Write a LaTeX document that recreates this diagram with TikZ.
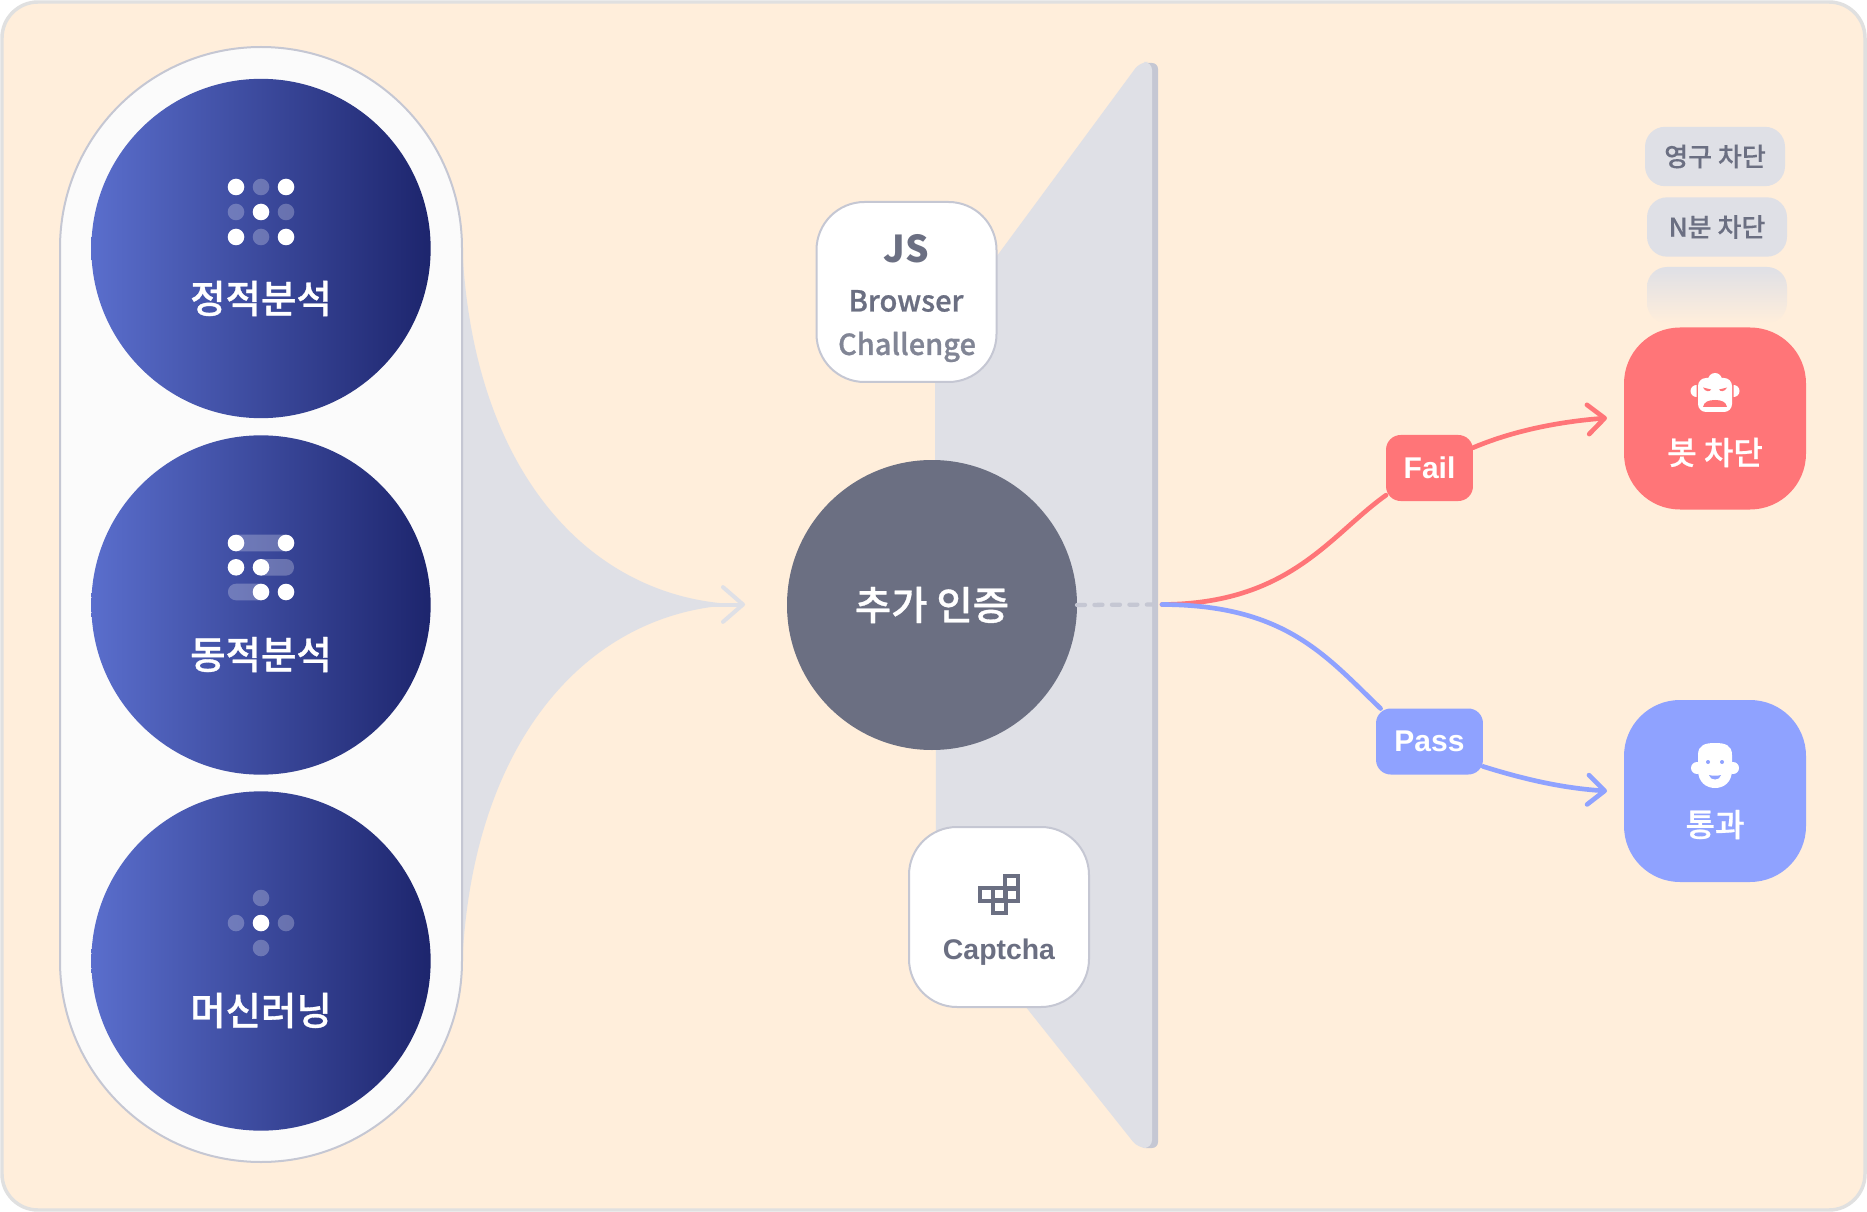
\documentclass[tikz,border=0pt]{standalone}
\usepackage{fontspec}
\usetikzlibrary{arrows.meta}
\setmainfont{Noto Sans CJK KR}
\newfontfamily\krm[FakeBold=0.8]{Noto Sans CJK KR Medium}
\newfontfamily\krg[FakeBold=0.3]{Noto Sans CJK KR Medium}
\newfontfamily\lat{Liberation Sans Bold}
\definecolor{bgc}{HTML}{FFEEDB}
\definecolor{edge}{HTML}{C5C7D3}
\definecolor{lgray}{HTML}{DFE0E6}
\definecolor{slate}{HTML}{6B6F82}
\definecolor{redc}{HTML}{FF7578}
\definecolor{bluec}{HTML}{8FA2FF}
\definecolor{gl}{HTML}{5A6ECC}
\definecolor{gr}{HTML}{1D256D}
\definecolor{pillc}{HTML}{FBFBFB}
\definecolor{framec}{HTML}{E0E0E0}
\newcommand{\fpx}[1]{\fontsize{\dimexpr#1pt*3/4\relax}{\dimexpr#1pt*9/10\relax}\selectfont}
\tikzset{
  x=0.75pt,y=-0.75pt,
  bigcircle/.style={circle,minimum size=254.5pt,inner sep=0pt,outer sep=0pt,left color=gl,right color=gr,draw=none},
  circlabel/.style={text=white,font=\krm\fpx{38.5}},
  whitebox/.style={rectangle,rounded corners=36pt,minimum width=135pt,minimum height=135pt,inner sep=0pt,fill=white,draw=edge,line width=1.5pt},
  boxlabel/.style={text=slate,inner sep=0pt},
  tag/.style={rectangle,rounded corners=11pt,inner sep=0pt,outer sep=0pt,text=white,font=\lat\fpx{30},minimum height=49.5pt},
  result/.style={rectangle,rounded corners=42pt,minimum width=136.5pt,minimum height=136.5pt,inner sep=0pt},
  reslabel/.style={text=white,font=\krm\fpx{32},inner sep=0pt},
  graybox/.style={rectangle,rounded corners=15pt,minimum width=105pt,minimum height=44.5pt,inner sep=0pt,fill=lgray,text=slate,font=\krg\fpx{26}},
  wire/.style={line width=3.5pt,line cap=round},
  barb/.style={-{Straight Barb[length=12.5pt,width=22pt,round]}},
  dotbright/.style={fill=white},
  dotdim/.style={fill=white,fill opacity=0.25},
}
\newcommand{\dotat}[3]{\fill[#1] (#2,#3) circle[radius=8.3];}
\begin{document}
\begin{tikzpicture}
\useasboundingbox (0,0) rectangle (1867,1212);
\fill[white] (0,0) rectangle (1867,1212);
\draw[fill=bgc,draw=framec,line width=2.6pt,rounded corners=27pt] (2,2) rectangle (1865,1210);

% funnel out of the pill
\coordinate (funnelTip) at (745,604.5);
\fill[lgray] (462,240) .. controls (470,470) and (590,603) .. (funnelTip)
  .. controls (590,606) and (470,740) .. (462,970) -- cycle;
\coordinate (arrowTail) at (700,604.5);
\draw[lgray,line width=3pt,line cap=round,-{Straight Barb[length=15pt,width=26pt,round]}] (arrowTail) -- (funnelTip);

% pill
\draw[fill=pillc,draw=edge,line width=1.5pt]
  (60,248) arc[start angle=180,end angle=360,radius=201] -- (462,961) arc[start angle=0,end angle=180,radius=201] -- cycle;

\node[bigcircle] (c1) at (261,248.5) {};
\node[bigcircle] (c2) at (261,605) {};
\node[bigcircle] (c3) at (261,961) {};
\node[circlabel] (l1) at (261,298.5) {정적분석};
\node[circlabel] (l2) at (261,654.5) {동적분석};
\node[circlabel] (l3) at (261,1010.5) {머신러닝};

% icon 1
\dotat{dotbright}{236}{187}\dotat{dotdim}{261}{187}\dotat{dotbright}{286}{187}
\dotat{dotdim}{236}{212}\dotat{dotbright}{261}{212}\dotat{dotdim}{286}{212}
\dotat{dotbright}{236}{237}\dotat{dotdim}{261}{237}\dotat{dotbright}{286}{237}
% icon 2
\fill[dotdim,rounded corners=6pt] (228,534.7) rectangle (294,551.3);
\fill[dotdim,rounded corners=6pt] (253,559) rectangle (294,575.6);
\fill[dotdim,rounded corners=6pt] (228,583.7) rectangle (269,600.3);
\dotat{dotbright}{236}{543}\dotat{dotbright}{286}{543}
\dotat{dotbright}{236}{567.3}\dotat{dotbright}{261}{567.3}
\dotat{dotbright}{261}{592}\dotat{dotbright}{286}{592}
% icon 3
\dotat{dotdim}{261}{898}\dotat{dotdim}{236}{923}\dotat{dotbright}{261}{923}\dotat{dotdim}{286}{923}\dotat{dotdim}{261}{948}

% wall
\fill[edge,rounded corners=4.5pt] (1140,63) rectangle (1158,1148);
\fill[lgray,rounded corners=6pt] (935,340) -- (1140,62) -- (1152,62) -- (1152,1148) -- (1138,1148) -- (936,894) -- cycle;

% centre
\node[circle,minimum size=217.5pt,inner sep=0pt,outer sep=0pt,fill=slate,text=white,font=\krm\fpx{39.5}] (auth) at (932,605) {추가 인증};

% boxes
\node[whitebox] (js) at (906.5,292) {};
\node[boxlabel,font=\bfseries\fpx{37}] (jsa) at (906,249) {JS};
\node[boxlabel,font=\krm\fpx{29}] (jsb) at (906,301) {Browser};
\node[boxlabel,font=\krm\fpx{29},text=slate!85!white] (jsc) at (907,347) {Challenge};
\node[whitebox] (cap) at (999,917) {};
\node[boxlabel,font=\lat\fpx{28.4}] (capl) at (999,952.5) {Captcha};
\foreach \cx/\cy in {1011.7/882.3,986.7/894.5,999.2/894.5,1011.7/894.5,999.2/906.7}
  \draw[slate,line width=3pt] (\cx-6.3,\cy-6.3) rectangle (\cx+6.3,\cy+6.3);

% connectors
\coordinate (split) at (1162,604.5);
\coordinate (redEnd) at (1607,418);
\coordinate (blueEnd) at (1607,791);
\draw[edge,line width=3.2pt,line cap=round,dash pattern=on 6pt off 7.1pt] (auth.east) -- (split);
\node[tag,fill=redc,minimum width=65.2pt] (fail) at (1429.5,468) {Fail};
\node[tag,fill=bluec,minimum width=80.2pt] (pass) at (1429.5,741.5) {Pass};
\draw[wire,redc] (split) .. controls (1290,604) and (1330,535) .. (fail.212);
\draw[wire,bluec] (split) .. controls (1285,605) and (1325,655) .. (pass.146);
\draw[wire,redc,barb] (fail.25) .. controls (1510,432) and (1555,422) .. (redEnd);
\draw[wire,bluec,barb] (pass.-25) .. controls (1520,778) and (1560,788) .. (blueEnd);

% stack
\node[graybox] (g1) at (1715,156.5) {영구 차단};
\node[graybox] (g2) at (1717,227) {N분 차단};
\shade[top color=lgray,bottom color=bgc,rounded corners=15pt] (1647,267) rectangle (1787,323);

% results
\node[result,fill=redc] (bot) at (1715,418.5) {};
\node[reslabel] (botl) at (1715,452.5) {봇 차단};
\node[result,fill=bluec] (ok) at (1715,791) {};
\node[reslabel] (okl) at (1715,824.5) {통과};

% robot
\fill[white] (1715,380) circle[radius=7];
\fill[white] (1696.5,385) arc[start angle=270,end angle=90,radius=6] -- cycle;
\fill[white] (1733.5,385) arc[start angle=270,end angle=450,radius=6] -- cycle;
\fill[white,rounded corners=6pt] (1698,378) rectangle (1732,412);
\fill[redc] (1703,387.5) -- (1711,389.5) .. controls (1710,392) and (1705,392) .. (1703,387.5) -- cycle;
\fill[redc] (1727,387.5) -- (1719,389.5) .. controls (1720,392) and (1725,392) .. (1727,387.5) -- cycle;
\fill[redc] (1703,407) .. controls (1704,402) and (1708,400) .. (1715,400) .. controls (1722,400) and (1726,402) .. (1727,407) -- cycle;
% person
\fill[white] (1697,768) circle[radius=6];
\fill[white] (1733,768) circle[radius=6];
\fill[white] (1698,755) .. controls (1698,745) and (1705,743) .. (1715,743)
  .. controls (1725,743) and (1732,745) .. (1732,755) -- (1732,770)
  .. controls (1732,782) and (1724,788) .. (1715,788)
  .. controls (1706,788) and (1698,782) .. (1698,770) -- cycle;
\fill[bluec] (1708,762) circle[radius=2];
\fill[bluec] (1722,762) circle[radius=2];
\fill[bluec] (1709,775) .. controls (1712,776) and (1718,776) .. (1721,775) .. controls (1720,781) and (1710,781) .. (1709,775) -- cycle;
\end{tikzpicture}
\end{document}
